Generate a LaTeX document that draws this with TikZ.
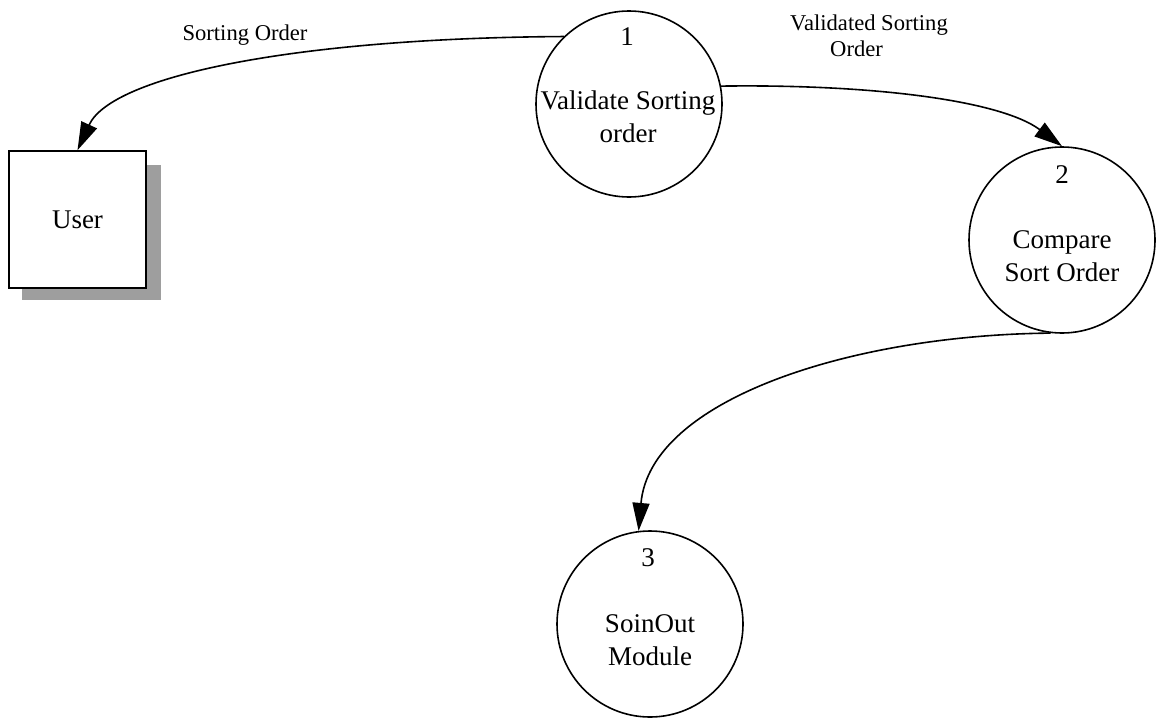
\documentclass[tikz,border=0pt]{standalone}
\usepackage{fontspec}
\setmainfont{Liberation Serif}
\usetikzlibrary{arrows.meta}
\begin{document}
\begin{tikzpicture}[x=1pt,y=-1pt,
  proc/.style={circle, draw, line width=1.6pt, minimum size=186pt, inner sep=0pt},
  big/.style={font=\fontsize{27}{33}\selectfont, align=center, inner sep=0pt},
  small/.style={font=\fontsize{22.6}{26.5}\selectfont, inner sep=0pt},
  entity/.style={draw, fill=white, line width=1.6pt, minimum width=137pt, minimum height=137pt, inner sep=0pt, font=\fontsize{27}{33}\selectfont},
  flow/.style={line width=1.6pt, -{Triangle[length=28pt,width=17pt]}}
]
\useasboundingbox (0,0) rectangle (1159,723);

% external entity with its shadow
\fill[black!38] (22,165) rectangle (161,300);
\node[entity] (user) at (77.5,219.5) {User};

% processes
\node[proc] (c1) at (629,104) {};
\node[proc] (c2) at (1062,240) {};
\node[proc] (c3) at (650,624) {};

\node[big] (n1) at (627,37) {1};
\node[big] (t1) at (628,117) {Validate Sorting\\order};
\node[big] (n2) at (1062,175) {2};
\node[big] (t2) at (1062,256) {Compare\\Sort Order};
\node[big] (n3) at (648,558) {3};
\node[big] (t3) at (650,640) {SoinOut\\Module};

% data flows
\draw[flow] (c1.134) .. controls (300,38) and (112,75) .. (user.north);
\draw[flow] (c1.11) .. controls (870,84) and (1000,100) .. (c2.north);
\draw[flow] (c2.263) .. controls (850,335) and (650,400) .. (c3.97);

% flow labels
\node[small] (l1) at (245,35) {Sorting Order};
\node[small, align=left] (l2) at (869,36) {Validated Sorting\\\hspace*{40pt}Order};
\end{tikzpicture}
\end{document}
